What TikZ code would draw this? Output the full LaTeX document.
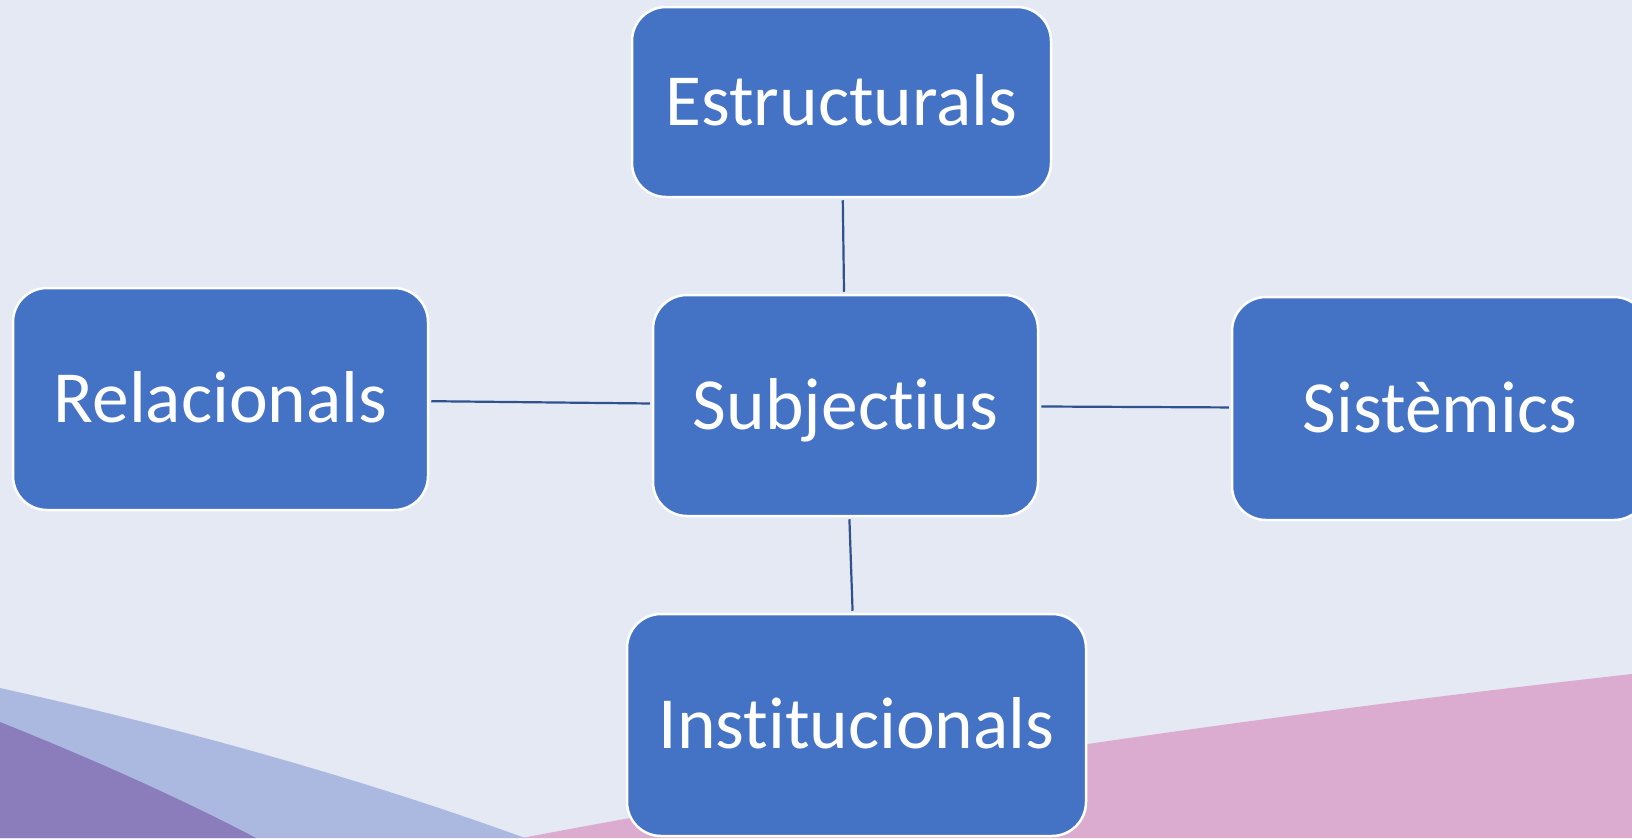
\documentclass[tikz,border=0pt]{standalone}
\usepackage{fontspec}
\setmainfont{Carlito}[Ligatures=NoCommon]
\definecolor{bgc}{HTML}{E4E9F3}
\definecolor{boxc}{HTML}{4472C4}
\definecolor{linec}{HTML}{2F528F}
\definecolor{lbluec}{HTML}{ABB8E0}
\definecolor{purpc}{HTML}{8B7DBB}
\definecolor{pinkc}{HTML}{DBACD0}
\begin{document}
\begin{tikzpicture}[x=1pt,y=-1pt,
  boxnode/.style={draw=white, line width=2.5pt, fill=boxc, rounded corners=34pt,
    text=white, font=\fontsize{73.5}{88}\selectfont, align=center,
    text height=47.3pt, text depth=0pt, inner sep=0pt},
  conn/.style={draw=linec, line width=2.2pt, shorten >=2pt, shorten <=2pt}]
\useasboundingbox (0,0) rectangle (1632,838);
\fill[bgc] (0,0) rectangle (1632,838);
\fill[pinkc] (522,838) .. controls (800,785) and (1200,722) .. (1632,674) -- (1632,838) -- cycle;
\fill[lbluec] (0,688) .. controls (180,728) and (360,778) .. (525,838) -- (0,838) -- cycle;
\fill[purpc] (0,722) .. controls (90,758) and (180,798) .. (256,838) -- (0,838) -- cycle;

\node[boxnode, minimum width=419pt, minimum height=190pt] (est) at (841.5,102) {Estructurals};
\node[boxnode, minimum width=415pt, minimum height=222pt] (rel) at (220.5,399) {Relacionals};
\node[boxnode, minimum width=385pt, minimum height=221pt] (sub) at (845.5,405.5) {Subjectius};
\node[boxnode, minimum width=416pt, minimum height=223pt] (sis) at (1440,408.5) {Sistèmics};
\node[boxnode, minimum width=459pt, minimum height=222pt] (ins) at (856.5,725) {Institucionals};

\draw[conn] (est) -- (sub);
\draw[conn] (rel) -- (sub);
\draw[conn] (sub) -- (sis);
\draw[conn] (sub) -- (ins);
\end{tikzpicture}
\end{document}
